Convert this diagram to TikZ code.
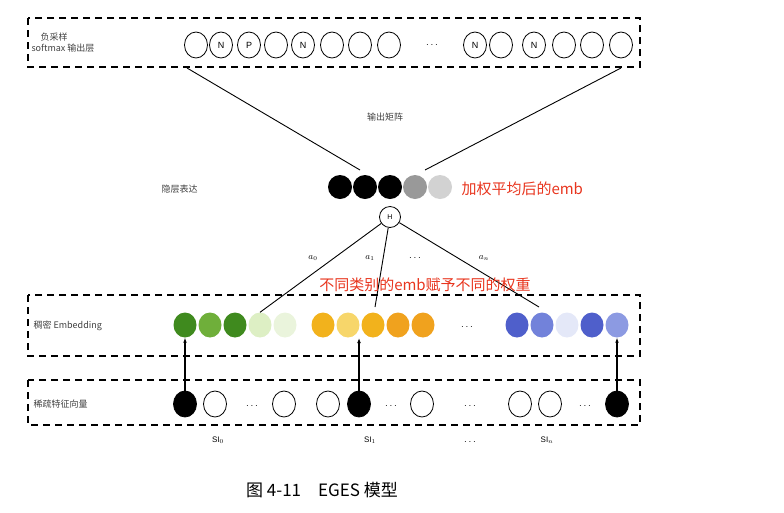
\documentclass[tikz,border=0pt]{standalone}
\usepackage{fontspec}
\setmainfont{Liberation Sans}
\newfontfamily\cjk{Noto Sans CJK SC}
\usetikzlibrary{arrows.meta,shapes.geometric}
\definecolor{ga}{HTML}{3F8A1E}\definecolor{gb}{HTML}{6FAF3A}\definecolor{gc}{HTML}{DDEFC4}\definecolor{gd}{HTML}{EAF4DC}
\definecolor{ya}{HTML}{F2B21C}\definecolor{yb}{HTML}{F7D66A}\definecolor{yc}{HTML}{F0A21E}
\definecolor{ba}{HTML}{4F5FCB}\definecolor{bb}{HTML}{7282DA}\definecolor{bc}{HTML}{E4E8F8}\definecolor{bd}{HTML}{8C9AE2}
\definecolor{redt}{HTML}{E8351E}
\tikzset{
 box/.style={draw,dash pattern=on 7pt off 5pt,line width=1.3pt},
 oc/.style={draw,ellipse,minimum width=23pt,minimum height=26pt,inner sep=0pt,line width=0.8pt,font=\small},
 fc/.style={circle,minimum size=24pt,inner sep=0pt,fill=#1},
 lab/.style={font=\cjk\small,anchor=west,text=black!75},
 red/.style={font=\cjk\fontsize{15}{18}\selectfont,text=redt},
 ln/.style={line width=0.9pt},
 ar/.style={line width=1.2pt,-{Latex[length=5pt]}}
}
\begin{document}
\begin{tikzpicture}[x=1pt,y=-1pt]
\useasboundingbox (0,0) rectangle (784,512);
\draw[box] (28,18) rectangle (640,67);
\draw[box] (28,295) rectangle (640,356);
\draw[box] (28,380) rectangle (640,425);
\node[lab,align=left] (l1) at (28,43) {\quad 负采样\\softmax 输出层};
\node[lab] (l2) at (30,326) {稠密 Embedding};
\node[lab] (l3) at (30,404) {稀疏特征向量};
\node[lab] (l4) at (158,189) {隐层表达};
\node[font=\cjk\small,text=black!75] (om) at (385,117) {输出矩阵};
\foreach \x/\t [count=\i] in {196/,221/N,249/P,276/,303/N,332/,360/,389/,475/N,501/,534/N,564/,592/,621/}
  \node[oc] (t\i) at (\x,45) {\t};
\node (tdots) at (432,45) {$\cdots$};
\foreach \x/\c [count=\i] in {340/black,365/black,390/black,415/gray!80,440/gray!35}
  \node[fc=\c] (h\i) at (\x,187) {};
\node[red,anchor=west] (r1) at (458,189) {加权平均后的emb};
\node[draw,circle,minimum size=21pt,inner sep=0pt,line width=0.8pt,font=\scriptsize] (H) at (390,217) {H};
\coordinate (p1) at (187,68); \coordinate (p2) at (621,68);
\coordinate (q1) at (360,170); \coordinate (q2) at (425,170);
\draw[ln] (p1) -- (q1);
\draw[ln] (p2) -- (q2);
\foreach \x/\c [count=\i] in {185/ga,210/gb,235/ga,260/gc,285/gd,323/ya,348/yb,373/ya,398/yc,423/yc,517/ba,542/bb,567/bc,592/ba,617/bd}
  \node[fc=\c,minimum width=23pt,minimum height=25pt,ellipse] (e\i) at (\x,325) {};
\node (edots) at (467,327) {$\cdots$};
\coordinate (c2) at (375,307); \coordinate (c3) at (539,307); \coordinate (em) at (359,338);
\draw[ln] (H) -- (e4.north);
\draw[ln] (H) -- (c2);
\draw[ln] (H) -- (c3);
\node[font=\small] (a0) at (313,258) {$a_0$};
\node[font=\small] (a1) at (370,258) {$a_1$};
\node (adots) at (415,258) {$\cdots$};
\node[font=\small] (an) at (484,258) {$a_n$};
\node[red] (r2) at (425,285) {不同类别的emb赋予不同的权重};
\foreach \x/\c [count=\i] in {185/black,215/white,284/white,328/white,359/black,422/white,520/white,550/white,617/black}
  \node[oc,fill=\c] (s\i) at (\x,404) {};
\foreach \x in {252,391,470,585} \node at (\x,406) {$\cdots$};
\draw[ar] (s1.north) -- (e1.south);
\draw[ar] (s5.north) -- (em);
\draw[ar] (s9.north) -- (e15.south);
\node[font=\footnotesize] (si0) at (218,440) {SI$_0$};
\node[font=\footnotesize] (si1) at (370,440) {SI$_1$};
\node (sidots) at (470,442) {$\cdots$};
\node[font=\footnotesize] (sin) at (547,440) {SI$_n$};
\node[font=\cjk\fontsize{17}{20}\selectfont] (cap) at (322,490) {图 4-11\quad EGES 模型};
\end{tikzpicture}
\end{document}
